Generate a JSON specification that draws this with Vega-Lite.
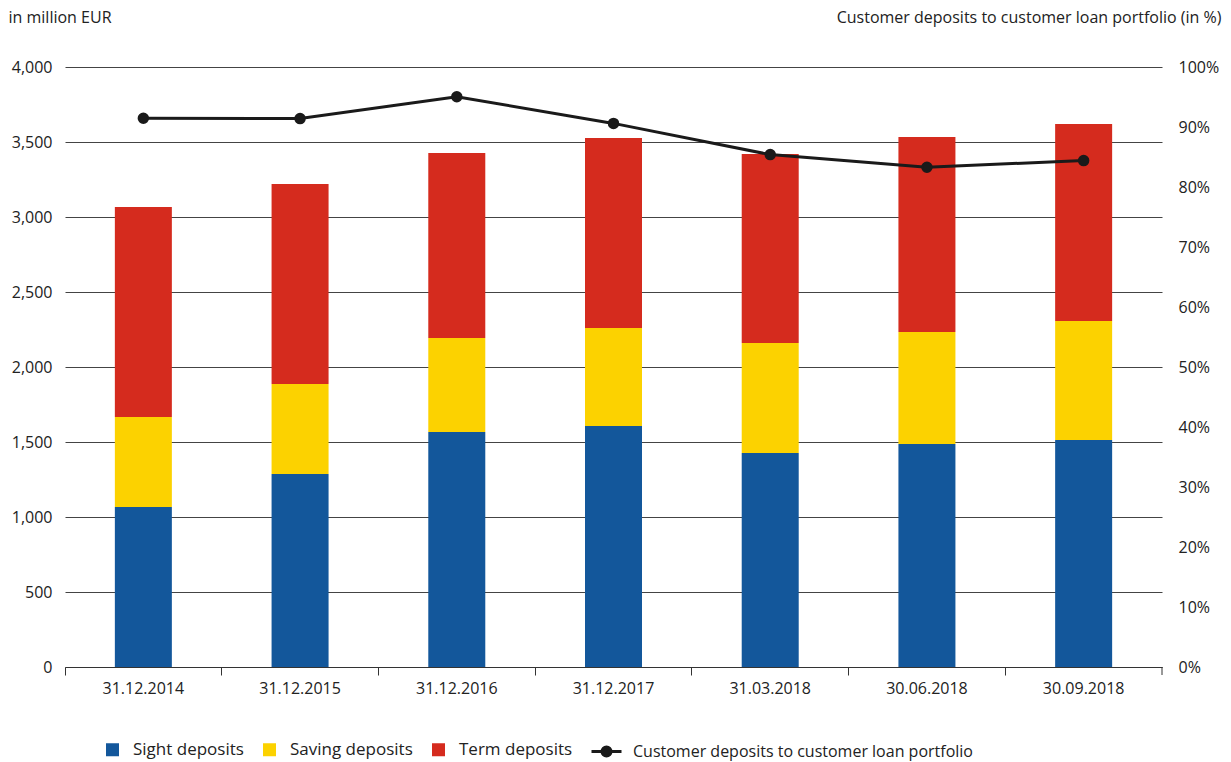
{
  "$schema": "https://vega.github.io/schema/vega-lite/v6.json",
  "width": 1097,
  "height": 600,
  "autosize": {"type": "none"},
  "padding": {"left": 65, "top": 67, "right": 69, "bottom": 95},
  "background": "white",
  "config": {
    "view": {"stroke": null},
    "font": "Open Sans",
    "axis": {"labelFont": "Open Sans", "titleFont": "Open Sans", "labelFontSize": 16, "titleFontSize": 16, "labelColor": "#222", "titleColor": "#222", "titleFontWeight": "normal"},
    "legend": {"labelFont": "Open Sans", "labelFontSize": 17, "labelColor": "#222", "labelLimit": 500}
  },
  "datasets": {
    "deposits": [
      {"date": "31.12.2014", "type": "Sight deposits", "value": 1067, "ord": 1},
      {"date": "31.12.2014", "type": "Saving deposits", "value": 600, "ord": 2},
      {"date": "31.12.2014", "type": "Term deposits", "value": 1400, "ord": 3},
      {"date": "31.12.2015", "type": "Sight deposits", "value": 1287, "ord": 1},
      {"date": "31.12.2015", "type": "Saving deposits", "value": 600, "ord": 2},
      {"date": "31.12.2015", "type": "Term deposits", "value": 1333, "ord": 3},
      {"date": "31.12.2016", "type": "Sight deposits", "value": 1567, "ord": 1},
      {"date": "31.12.2016", "type": "Saving deposits", "value": 626, "ord": 2},
      {"date": "31.12.2016", "type": "Term deposits", "value": 1234, "ord": 3},
      {"date": "31.12.2017", "type": "Sight deposits", "value": 1607, "ord": 1},
      {"date": "31.12.2017", "type": "Saving deposits", "value": 653, "ord": 2},
      {"date": "31.12.2017", "type": "Term deposits", "value": 1267, "ord": 3},
      {"date": "31.03.2018", "type": "Sight deposits", "value": 1427, "ord": 1},
      {"date": "31.03.2018", "type": "Saving deposits", "value": 733, "ord": 2},
      {"date": "31.03.2018", "type": "Term deposits", "value": 1260, "ord": 3},
      {"date": "30.06.2018", "type": "Sight deposits", "value": 1487, "ord": 1},
      {"date": "30.06.2018", "type": "Saving deposits", "value": 746, "ord": 2},
      {"date": "30.06.2018", "type": "Term deposits", "value": 1300, "ord": 3},
      {"date": "30.09.2018", "type": "Sight deposits", "value": 1513, "ord": 1},
      {"date": "30.09.2018", "type": "Saving deposits", "value": 794, "ord": 2},
      {"date": "30.09.2018", "type": "Term deposits", "value": 1313, "ord": 3}
    ],
    "ratio": [
      {"date": "31.12.2014", "series": "Customer deposits to customer loan portfolio", "pct": 91.45},
      {"date": "31.12.2015", "series": "Customer deposits to customer loan portfolio", "pct": 91.4},
      {"date": "31.12.2016", "series": "Customer deposits to customer loan portfolio", "pct": 95.05},
      {"date": "31.12.2017", "series": "Customer deposits to customer loan portfolio", "pct": 90.6},
      {"date": "31.03.2018", "series": "Customer deposits to customer loan portfolio", "pct": 85.4},
      {"date": "30.06.2018", "series": "Customer deposits to customer loan portfolio", "pct": 83.3},
      {"date": "30.09.2018", "series": "Customer deposits to customer loan portfolio", "pct": 84.4}
    ],
    "endtick": [
      {"date": "30.09.2018", "value": 0}
    ]
  },
  "encoding": {
    "x": {
      "field": "date",
      "type": "nominal",
      "sort": ["31.12.2014", "31.12.2015", "31.12.2016", "31.12.2017", "31.03.2018", "30.06.2018", "30.09.2018"],
      "scale": {"paddingInner": 0, "paddingOuter": 0},
      "axis": {
        "title": null,
        "labelAngle": 0,
        "bandPosition": 0,
        "labelAlign": "center",
        "tickSize": 8,
        "tickColor": "#333",
        "domainColor": "#333",
        "labelPadding": 5,
        "grid": false
      }
    }
  },
  "layer": [
    {
      "layer": [
        {
          "data": {"name": "deposits"},
          "mark": {"type": "bar", "size": 57},
          "encoding": {
            "y": {
              "field": "value",
              "type": "quantitative",
              "stack": "zero",
              "scale": {"domain": [0, 4000], "nice": false},
              "axis": {
                "title": "in million EUR",
                "titleAngle": 0,
                "titleAlign": "left",
                "titleBaseline": "middle",
                "titleX": -57,
                "titleY": -50,
                "values": [0, 500, 1000, 1500, 2000, 2500, 3000, 3500, 4000],
                "format": ",d",
                "domain": false,
                "ticks": false,
                "labelPadding": 13,
                "grid": true,
                "gridColor": "#444",
                "gridWidth": 1,
                "gridOpacity": 1
              }
            },
            "color": {
              "field": "type",
              "type": "nominal",
              "scale": {"domain": ["Sight deposits", "Saving deposits", "Term deposits"], "range": ["#13579b", "#fcd200", "#d52b1e"]},
              "legend": {
                "title": null,
                "orient": "none",
                "direction": "horizontal",
                "legendX": 39,
                "legendY": 674,
                "symbolType": "square",
                "symbolSize": 169,
                "symbolStrokeWidth": 0,
                "labelOffset": 12,
                "columnPadding": 17
              }
            },
            "order": {"field": "ord", "type": "quantitative"}
          }
        },
        {
          "data": {"name": "endtick"},
          "mark": {"type": "rule", "color": "#333", "strokeWidth": 1, "y2Offset": 8},
          "encoding": {
            "x": {"field": "date", "type": "nominal", "bandPosition": 1},
            "y": {"field": "value", "type": "quantitative"},
            "y2": {"field": "value"}
          }
        }
      ]
    },
    {
      "data": {"name": "ratio"},
      "mark": {"type": "line", "strokeWidth": 3, "point": {"filled": true, "size": 90, "color": "#1a1a1a"}},
      "encoding": {
        "y": {
          "field": "pct",
          "type": "quantitative",
          "scale": {"domain": [0, 100], "nice": false},
          "axis": {
            "orient": "right",
            "title": "Customer deposits to customer loan portfolio (in %)",
            "titleAngle": 0,
            "titleAlign": "right",
            "titleBaseline": "middle",
            "titleX": 59,
            "titleY": -50,
            "values": [0, 10, 20, 30, 40, 50, 60, 70, 80, 90, 100],
            "labelExpr": "datum.value + '%'",
            "domain": false,
            "ticks": false,
            "labelPadding": 16,
            "grid": false
          }
        },
        "stroke": {
          "field": "series",
          "type": "nominal",
          "scale": {"range": ["#1a1a1a"]},
          "legend": {
            "title": null,
            "orient": "none",
            "legendX": 525,
            "legendY": 668,
            "symbolType": "M-1,0L1,0M-0.3,0A0.3,0.3,0,1,1,0.3,0A0.3,0.3,0,1,1,-0.3,0Z",
            "symbolSize": 900,
            "symbolStrokeWidth": 3,
            "symbolFillColor": "#1a1a1a",
            "symbolStrokeColor": "#1a1a1a",
            "labelOffset": 10,
            "labelFontSize": 16
          }
        }
      }
    }
  ],
  "resolve": {"scale": {"y": "independent"}}
}
